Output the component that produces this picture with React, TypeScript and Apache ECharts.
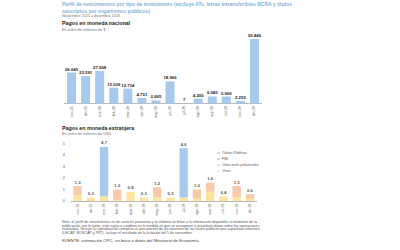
import React, { useEffect, useRef } from "react";
import * as echarts from "echarts";

const categories = ["nov-25", "dic-25", "ene-26", "feb-26", "mar-26", "abr-26", "may-26", "jun-26", "jul-26", "ago-26", "sep-26", "oct-26", "nov-26", "dic-26"];
const nacional = [26645, 23591, 27908, 13636, 12734, 4751, 2665, 18966, 7, 4200, 6045, 5960, 2255, 55446];
const titulosPublicos = [0, 0, 4.3, 0, 0, 0, 0, 0, 4.3, 0, 0, 0, 0, 0];
const fmi = [0, 0, 0, 0, 0, 0, 0, 0, 0, 0, 0, 0, 0, 0];
const otrosMulti = [0.8, 0, 0, 0.9, 0, 0, 0.9, 0, 0, 0.8, 0.8, 0, 1.0, 0.4];
const otros = [0.5, 0.3, 0.4, 0.1, 0.8, 0.3, 0.3, 0.3, 0.3, 0.2, 0.8, 0.4, 0.3, 0.2];
const totales = [1.3, 0.3, 4.7, 1.0, 0.8, 0.3, 1.2, 0.3, 4.6, 1.0, 1.6, 0.4, 1.3, 0.6];
const yTicks = [0, 1, 2, 3, 4, 5];

const FONT = "'Liberation Sans', Arial, sans-serif";
const fmtMiles = (n: number) => String(n).replace(/\B(?=(\d{3})+(?!\d))/g, ".");
const fmtDec = (n: number) => n.toFixed(1).replace(".", ",");

const noteLines = [
  "Nota: el perfil de vencimientos es de carácter provisorio y se elabora en base a la información disponible al momento de la",
  "publicación, por lo tanto, está sujeto a cambios en la medida en que se incorporen o actualicen datos sobre las operaciones",
  "realizadas. Incluye la capitalización completa al vencimiento de los intereses de los títulos públicos que capitalizan intereses",
  "(LECAP, BONCAP y PRT). Incluye el resultado de la licitación del 5 de noviembre.",
];

export default function App() {
  const ref = useRef<HTMLDivElement>(null);
  useEffect(() => {
    if (!ref.current) return;
    const chart = echarts.init(ref.current, null, { renderer: "svg" });
    const txt = (text: string, x: number, y: number, size: number, color: string, weight = "normal") => ({
      type: "text",
      x,
      y,
      style: { text, fill: color, font: `${weight} ${size}px ${FONT}`, verticalAlign: "middle", align: "left" },
    });
    const catAxis = (gridIndex: number) => ({
      type: "category",
      gridIndex,
      data: categories,
      axisLine: { show: true, lineStyle: { color: "#8a8a8a", width: 0.6 } },
      axisTick: { show: false },
      axisLabel: { rotate: 90, interval: 0, fontSize: 3.6, color: "#555", margin: 2.5, fontFamily: FONT },
    });
    const barLabel = { fontSize: 4.3, fontWeight: "bold", color: "#222", fontFamily: FONT, distance: 1.5 };
    const option: any = {
      animation: false,
      backgroundColor: "#fff",
      grid: [
        { left: 64.5, width: 197, top: 39, height: 64.5 },
        { left: 70.9, width: 185.7, top: 143.5, height: 57.5 },
      ],
      xAxis: [catAxis(0), catAxis(1)],
      yAxis: [
        { type: "value", gridIndex: 0, min: 0, max: 55446, show: false, splitLine: { show: false } },
        {
          type: "value",
          gridIndex: 1,
          min: 0,
          max: 5,
          interval: 1,
          axisLine: { show: false },
          axisTick: { show: false },
          splitLine: { show: false },
          axisLabel: { fontSize: 3.8, color: "#555", margin: 6, fontFamily: FONT },
        },
      ],
      legend: {
        orient: "vertical",
        left: 212,
        top: 146,
        itemWidth: 3,
        itemHeight: 1.2,
        itemGap: 2,
        icon: "rect",
        data: ["Títulos Públicos", "FMI", "Otros multi y bilaterales", "Otros"],
        textStyle: { fontSize: 3.5, color: "#555", fontFamily: FONT, padding: [0, 0, 0, -3] },
      },
      series: [
        {
          type: "bar",
          xAxisIndex: 0,
          yAxisIndex: 0,
          data: nacional,
          barWidth: "64%",
          itemStyle: { color: "#a6c9ec" },
          label: { show: true, position: "top", ...barLabel, formatter: (p: any) => fmtMiles(p.value) },
        },
        { name: "Otros", type: "bar", stack: "me", xAxisIndex: 1, yAxisIndex: 1, data: otros, barWidth: "63%", itemStyle: { color: "#fde49c" } },
        { name: "Otros multi y bilaterales", type: "bar", stack: "me", xAxisIndex: 1, yAxisIndex: 1, data: otrosMulti, itemStyle: { color: "#f9c9ab" } },
        { name: "FMI", type: "bar", stack: "me", xAxisIndex: 1, yAxisIndex: 1, data: fmi, itemStyle: { color: "#bdbdbd" } },
        { name: "Títulos Públicos", type: "bar", stack: "me", xAxisIndex: 1, yAxisIndex: 1, data: titulosPublicos, itemStyle: { color: "#a6c9ec" } },
        {
          type: "scatter",
          xAxisIndex: 1,
          yAxisIndex: 1,
          data: totales,
          symbolSize: 0.1,
          itemStyle: { color: "rgba(0,0,0,0)" },
          label: { show: true, position: "top", ...barLabel, distance: 2, formatter: (p: any) => fmtDec(p.value) },
          silent: true,
        },
      ],
      graphic: [
        txt("Perfil de vencimientos por tipo de instrumento (excluye ATs, letras intransferibles BCRA y títulos", 62, 4, 5, "#7fb1dc", "bold"),
        txt("suscriptos por organismos públicos)", 62, 10.5, 5, "#7fb1dc", "bold"),
        txt("Noviembre 2025 a diciembre 2026", 62, 15.5, 3.8, "#777"),
        txt("Pagos en moneda nacional", 62, 23, 5.3, "#222", "bold"),
        txt("En miles de millones de $", 62, 29.5, 3.8, "#777"),
        txt("Pagos en moneda extranjera", 62, 128.3, 5.3, "#222", "bold"),
        txt("En miles de millones de USD", 62, 134, 3.8, "#777"),
        ...noteLines.map((l, i) => txt(l, 62, 222.3 + i * 3.5, 3.6, "#555")),
        txt("FUENTE: estimación OPC, en base a datos del Ministerio de Economía.", 62, 240.7, 4.3, "#444"),
      ],
    };
    chart.setOption(option);
    return () => chart.dispose();
  }, []);
  return <div ref={ref} style={{ position: "absolute", left: 0, top: 0, width: 400, height: 250 }} />;
}
